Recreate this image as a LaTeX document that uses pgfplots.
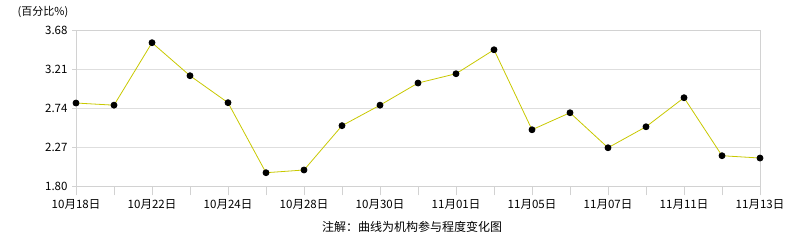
\documentclass[border=0pt]{standalone}
\usepackage{pgfplots}
\pgfplotsset{compat=1.18}
\usepackage{fontspec}
\setmainfont{Noto Sans CJK SC}
\definecolor{linecol}{RGB}{200,200,0}
\definecolor{gridcol}{RGB}{222,222,222}
\definecolor{axiscol}{RGB}{210,210,210}
\begin{document}
\begin{tikzpicture}[x=1pt,y=1pt]
\path[use as bounding box] (0,0) rectangle (786,240);
\begin{axis}[
  at={(76pt,53.5pt)}, anchor=south west, scale only axis,
  width=684pt, height=156pt,
  xmin=0, xmax=18, ymin=1.80, ymax=3.68,
  ytick={1.80,2.27,2.74,3.21,3.68},
  yticklabels={1.80,2.27,2.74,3.21,3.68},
  xtick={0,...,18},
  xticklabels={10月18日,,10月22日,,10月24日,,10月28日,,10月30日,,11月01日,,11月05日,,11月07日,,11月11日,,11月13日},
  ymajorgrids, major grid style={gridcol, line width=0.8pt},
  axis line style={axiscol, line width=0.8pt},
  tick align=outside, xtick pos=bottom, ytick pos=left,
  major tick length=4pt,
  xtick style={axiscol, line width=0.8pt, /pgfplots/major tick length=9pt},
  ytick style={axiscol, line width=0.8pt},
  tick label style={font=\fontsize{11.5}{12}\selectfont, black},
  xticklabel style={yshift=-5pt},
  yticklabel style={xshift=-1pt},
  /pgf/number format/assume math mode=true,
  clip=false,
]
\addplot[linecol, line width=0.8pt, mark=*, mark size=3pt, mark options={black, fill=black}] coordinates {
(0,2.806) (1,2.78) (2,3.533) (3,3.135) (4,2.81) (5,1.966) (6,1.999) (7,2.533) (8,2.78) (9,3.047) (10,3.159) (11,3.448) (12,2.484) (13,2.689) (14,2.267) (15,2.52) (16,2.87) (17,2.171) (18,2.143)
};
\end{axis}
\node[font=\fontsize{11}{12}\selectfont] at (43,228) {(百分比\%)};
\node[font=\fontsize{12}{12}\selectfont] at (412,13) {注解：曲线为机构参与程度变化图};
\end{tikzpicture}
\end{document}
